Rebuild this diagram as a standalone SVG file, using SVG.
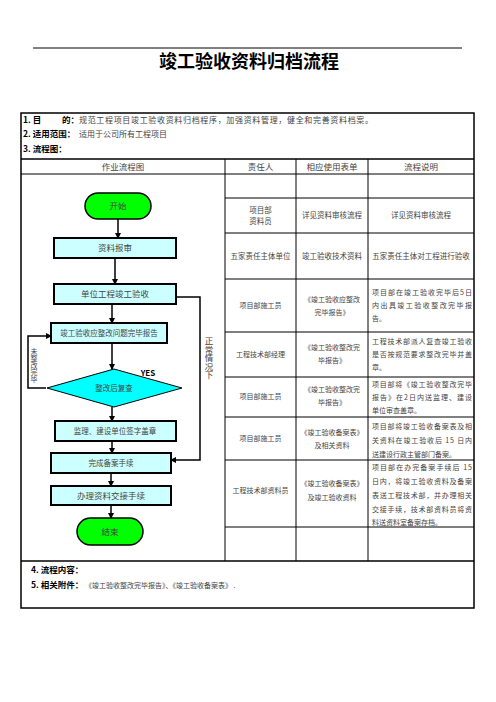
<svg xmlns="http://www.w3.org/2000/svg" width="496" height="702" viewBox="0 0 496 702">
<defs>
<style>
.t{font-family:"Noto Sans CJK SC","Noto Sans",sans-serif;fill:#444;}
.b{font-family:"Noto Sans CJK SC","Noto Sans",sans-serif;fill:#000;font-weight:bold;}
.c{text-anchor:middle;}
.v{writing-mode:vertical-rl;text-orientation:upright;text-anchor:start;}
.s7{font-size:7px;}
.s75{font-size:7.5px;}
.s8{font-size:8px;}
.s85{font-size:8.5px;}
.grid{stroke:#000;stroke-width:1;fill:none;}
.thick{stroke:#000;stroke-width:1.5;fill:none;}
.box{fill:#CCFFFF;stroke:#000;stroke-width:2;}
.term{fill:#00FF00;stroke:#000;stroke-width:1.5;}
.dia{fill:#00FFFF;stroke:#000;stroke-width:1;}
.ln{stroke:#000;stroke-width:1.5;fill:none;}
</style>
<marker id="ah" markerWidth="6" markerHeight="6" refX="5" refY="3" orient="auto" markerUnits="userSpaceOnUse">
<path d="M0,0 L6,3 L0,6 z" fill="#000"/>
</marker>
</defs>
<rect width="496" height="702" fill="#fff"/>
<line x1="33" y1="48" x2="462" y2="48" stroke="#000" stroke-width="1"/>
<text class="b c" x="249" y="68" font-size="18">竣工验收资料归档流程</text>

<g id="table">
<rect x="21" y="113" width="453" height="495" class="thick"/>
<line x1="21" y1="159" x2="474" y2="159" class="thick"/>
<line x1="21" y1="174" x2="474" y2="174" class="grid"/>
<line x1="21" y1="561" x2="474" y2="561" class="thick"/>
<line x1="225" y1="159" x2="225" y2="561" class="grid"/>
<line x1="296" y1="159" x2="296" y2="561" class="grid"/>
<line x1="368" y1="159" x2="368" y2="561" class="grid"/>
<line x1="225" y1="198" x2="474" y2="198" class="grid"/>
<line x1="225" y1="233" x2="474" y2="233" class="grid"/>
<line x1="225" y1="279" x2="474" y2="279" class="grid"/>
<line x1="225" y1="332" x2="474" y2="332" class="grid"/>
<line x1="225" y1="377" x2="474" y2="377" class="grid"/>
<line x1="225" y1="417" x2="474" y2="417" class="grid"/>
<line x1="225" y1="460" x2="474" y2="460" class="grid"/>
<line x1="225" y1="527" x2="474" y2="527" class="grid"/>
</g>

<g id="sections">
<text class="b s85" x="23" y="123">1. 目</text>
<text class="b s85" x="62" y="123">的：</text>
<text class="t s8" x="79" y="123" textLength="294" lengthAdjust="spacing">规范工程项目竣工验收资料归档程序，加强资料管理，健全和完善资料档案。</text>
<text class="b s85" x="23" y="137">2. 适用范围：</text>
<text class="t s8" x="79" y="137">适用于公司所有工程项目</text>
<text class="b s85" x="23" y="152">3. 流程图：</text>
<text class="b s85" x="31" y="573">4. 流程内容：</text>
<text class="b s85" x="31" y="588">5. 相关附件：</text>
<text class="t s7" x="85" y="588">《竣工验收整改完毕报告》、《竣工验收备案表》 .</text>
</g>

<g id="headers">
<text class="t s85 c" x="123" y="170">作业流程图</text>
<text class="t s85 c" x="260.5" y="170">责任人</text>
<text class="t s85 c" x="332" y="170">相应使用表单</text>
<text class="t s85 c" x="421" y="170">流程说明</text>
</g>

<g id="connectors">
<line x1="118" y1="219" x2="118" y2="238" class="ln" marker-end="url(#ah)"/>
<line x1="115" y1="258" x2="115" y2="284" class="ln" marker-end="url(#ah)"/>
<line x1="112" y1="304" x2="112" y2="323" class="ln" marker-end="url(#ah)"/>
<line x1="112" y1="343" x2="112" y2="369" class="ln" marker-end="url(#ah)"/>
<line x1="112" y1="407" x2="112" y2="421" class="ln" marker-end="url(#ah)"/>
<line x1="112" y1="441" x2="112" y2="453" class="ln" marker-end="url(#ah)"/>
<line x1="111" y1="473" x2="111" y2="486" class="ln" marker-end="url(#ah)"/>
<line x1="111" y1="505" x2="111" y2="518" class="ln" marker-end="url(#ah)"/>
<polyline points="46,388 28,388 28,336 51,336" class="ln" stroke-width="1" marker-end="url(#ah)"/>
<polyline points="176,297 200,297 200,460 171,460" class="ln" marker-end="url(#ah)"/>
<text class="t s7 v" x="34" y="348">未整改完毕</text>
<text class="t s85 v" x="209" y="337">正常情况下</text>
<text class="b c" x="148" y="376" font-size="8" font-family="Liberation Sans,sans-serif">YES</text>
</g>

<g id="n-start"><rect x="85" y="193" width="66" height="26" rx="13" class="term"/><text class="t s85 c" x="118" y="209">开始</text></g>
<g id="n-submit"><rect x="54" y="238" width="122" height="20" class="box"/><text class="t s85 c" x="115" y="251">资料报审</text></g>
<g id="n-accept"><rect x="54" y="284" width="122" height="20" class="box"/><text class="t s85 c" x="115" y="297">单位工程竣工验收</text></g>
<g id="n-report"><rect x="51" y="323" width="116" height="20" class="box" stroke-width="1"/><text class="t s75 c" x="109" y="336">竣工验收应整改问题完毕报告</text></g>
<g id="n-check"><polygon points="47,388 114,369 182,388 114,407" class="dia"/><text class="t s75 c" x="114" y="391">整改后复查</text></g>
<g id="n-sign"><rect x="55" y="421" width="121" height="20" class="box"/><text class="t s75 c" x="115" y="434">监理、建设单位签字盖章</text></g>
<g id="n-record"><rect x="51" y="453" width="120" height="20" class="box"/><text class="t s75 c" x="111" y="466">完成备案手续</text></g>
<g id="n-handover"><rect x="51" y="486" width="120" height="19" class="box" stroke-width="1"/><text class="t s85 c" x="111" y="499">办理资料交接手续</text></g>
<g id="n-end"><rect x="77" y="518" width="66" height="27" rx="13.5" class="term"/><text class="t s85 c" x="110" y="535">结束</text></g>

<g id="rows">
<text class="t s75 c" x="260.5" y="213">项目部</text>
<text class="t s75 c" x="260.5" y="224">资料员</text>
<text class="t s75 c" x="332" y="218">详见资料审核流程</text>
<text class="t s75 c" x="421" y="218">详见资料审核流程</text>

<text class="t s75 c" x="260.5" y="259">五家责任主体单位</text>
<text class="t s75 c" x="332" y="259">竣工验收技术资料</text>
<text class="t s75 c" x="421" y="259">五家责任主体对工程进行验收</text>

<text class="t s7 c" x="260.5" y="308">项目部施工员</text>
<text class="t s7 c" x="332" y="302">《竣工验收应整改</text>
<text class="t s7 c" x="332" y="315">完毕报告》</text>
<text class="t s7" x="372" y="295" textLength="100" lengthAdjust="spacing">项目部在竣工验收完毕后5日</text>
<text class="t s7" x="372" y="308" textLength="100" lengthAdjust="spacing">内出具竣工验收整改完毕报</text>
<text class="t s7" x="372" y="321">告。</text>

<text class="t s7 c" x="260.5" y="357">工程技术部经理</text>
<text class="t s7 c" x="332" y="350">《竣工验收整改完</text>
<text class="t s7 c" x="332" y="363">毕报告》</text>
<text class="t s7" x="372" y="344" textLength="100" lengthAdjust="spacing">工程技术部派人复查竣工验收</text>
<text class="t s7" x="372" y="357" textLength="100" lengthAdjust="spacing">是否按规范要求整改完毕并盖</text>
<text class="t s7" x="372" y="370">章。</text>

<text class="t s7 c" x="260.5" y="399">项目部施工员</text>
<text class="t s7 c" x="332" y="392">《竣工验收整改完</text>
<text class="t s7 c" x="332" y="405">毕报告》</text>
<text class="t s7" x="372" y="387" textLength="100" lengthAdjust="spacing">项目部将《竣工验收整改完毕</text>
<text class="t s7" x="372" y="400" textLength="100" lengthAdjust="spacing">报告》在2日内送监理、建设</text>
<text class="t s7" x="372" y="413">单位审查盖章。</text>

<text class="t s7 c" x="260.5" y="441">项目部施工员</text>
<text class="t s7 c" x="332" y="435">《竣工验收备案表》</text>
<text class="t s7 c" x="332" y="448">及相关资料</text>
<text class="t s7" x="372" y="429" textLength="100" lengthAdjust="spacing">项目部将竣工验收备案表及相</text>
<text class="t s7" x="372" y="443" textLength="100" lengthAdjust="spacing">关资料在竣工验收后 15 日内</text>
<text class="t s7" x="372" y="457">送建设行政主管部门备案。</text>

<text class="t s7 c" x="260.5" y="493">工程技术部资料员</text>
<text class="t s7 c" x="332" y="486">《竣工验收备案表》</text>
<text class="t s7 c" x="332" y="500">及竣工验收资料</text>
<text class="t s7" x="372" y="470" textLength="100" lengthAdjust="spacing">项目部在办完备案手续后 15</text>
<text class="t s7" x="372" y="484" textLength="100" lengthAdjust="spacing">日内，将竣工验收资料及备案</text>
<text class="t s7" x="372" y="498" textLength="100" lengthAdjust="spacing">表送工程技术部，并办理相关</text>
<text class="t s7" x="372" y="512" textLength="100" lengthAdjust="spacing">交接手续，技术部资料员将资</text>
<text class="t s7" x="372" y="525">料送资料室备案存档。</text>
</g>
</svg>
